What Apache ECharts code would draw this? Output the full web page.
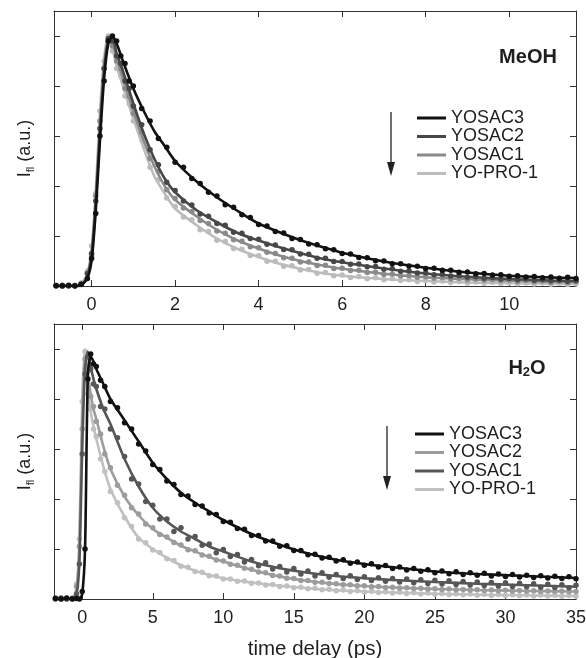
<!DOCTYPE html>
<html><head><meta charset="utf-8">
<script src="https://cdn.jsdelivr.net/npm/echarts/dist/echarts.min.js"></script>
<style>html,body{margin:0;padding:0;background:#fff}#c{width:586px;height:658px}</style>
</head><body><div id="c"></div><script>
// ---------- DATA ----------
const seriesNames = ['YOSAC3', 'YOSAC2', 'YOSAC1', 'YO-PRO-1'];
const meohTickLabels = [0, 2, 4, 6, 8, 10];
const waterTickLabels = [0, 5, 10, 15, 20, 25, 30, 35];
const yTicks = [0.2, 0.4, 0.6, 0.8, 1.0];

// MeOH panel: fitted curves
const meohFitX = [-0.9,-0.3,-0.2,-0.1,0,0.1,0.2,0.3,0.4,0.5,0.6,0.75,1,1.25,1.5,1.75,2,2.5,3,3.5,4,4.5,5,5.5,6,7,8,9,10,11,11.6];
const meohFitYOSAC3 = [0,0,0.01,0.03,0.10,0.30,0.58,0.83,0.97,1.0,0.97,0.90,0.79,0.70,0.62,0.56,0.50,0.42,0.355,0.30,0.25,0.215,0.183,0.157,0.133,0.098,0.073,0.054,0.041,0.034,0.032];
const meohFitYOSAC2 = [0,0,0.01,0.04,0.12,0.33,0.62,0.86,0.98,0.99,0.93,0.86,0.73,0.61,0.51,0.43,0.375,0.305,0.255,0.212,0.182,0.155,0.132,0.11,0.095,0.07,0.05,0.037,0.028,0.022,0.02];
const meohFitYOSAC1 = [0,0,0.01,0.04,0.13,0.35,0.65,0.88,0.99,0.97,0.91,0.83,0.70,0.58,0.48,0.40,0.345,0.28,0.225,0.182,0.15,0.122,0.1,0.083,0.069,0.049,0.035,0.027,0.021,0.017,0.016];
const meohFitYOPRO1 = [0,0,0.02,0.05,0.15,0.38,0.69,0.91,1.0,0.95,0.88,0.80,0.67,0.55,0.44,0.37,0.31,0.245,0.19,0.148,0.116,0.089,0.069,0.052,0.041,0.028,0.02,0.014,0.011,0.009,0.008];

// MeOH panel: measured points
const meohDotX = [-0.85,-0.7,-0.55,-0.4,-0.25,-0.1,0,0.1,0.2,0.3,0.4,0.5,0.6,0.7,0.8,0.9,1.0,
1.2,1.4,1.6,1.8,2.0,2.2,2.4,2.6,2.8,3.0,
3.2,3.4,3.6,3.8,4.0,4.2,4.4,4.6,4.8,5.0,
5.2,5.4,5.6,5.8,6.0,6.2,6.4,6.6,6.8,7.0,
7.2,7.4,7.6,7.8,8.0,8.2,8.4,8.6,8.8,9.0,
9.2,9.4,9.6,9.8,10.0,10.2,10.4,10.6,10.8,11.0,
11.2,11.4,11.6];
const meohDotsYOSAC3 = [0.002,0,0.003,0,0.006,0.03,0.11,0.29,0.60,0.82,0.98,1.0,0.98,0.92,0.89,0.82,0.80,
0.71,0.66,0.59,0.555,0.495,0.475,0.43,0.41,0.375,0.36,
0.325,0.315,0.285,0.274,0.246,0.24,0.218,0.212,0.19,0.186,
0.168,0.165,0.149,0.145,0.13,0.128,0.114,0.113,0.101,0.1,
0.089,0.089,0.08,0.079,0.07,0.071,0.063,0.063,0.055,0.056,
0.049,0.05,0.044,0.045,0.039,0.041,0.036,0.038,0.033,0.036,
0.031,0.035,0.03];
const meohDotsYOSAC2 = [0,0.003,0,0.002,0.007,0.05,0.13,0.34,0.63,0.87,0.99,0.98,0.92,0.89,0.82,0.79,0.72,
0.645,0.545,0.485,0.415,0.382,0.34,0.324,0.288,0.279,0.25,
0.243,0.215,0.211,0.19,0.187,0.167,0.164,0.146,0.145,0.128,
0.127,0.111,0.111,0.098,0.098,0.087,0.088,0.077,0.078,0.067,
0.069,0.059,0.061,0.052,0.053,0.045,0.047,0.04,0.042,0.035,
0.037,0.031,0.034,0.028,0.03,0.025,0.028,0.023,0.026,0.021,
0.023,0.019,0.022];
const meohDotsYOSAC1 = [0.002,0,0.002,0,0.01,0.05,0.12,0.36,0.66,0.87,0.98,0.96,0.9,0.87,0.79,0.76,0.69,
0.615,0.51,0.458,0.385,0.35,0.312,0.298,0.262,0.25,0.22,
0.211,0.185,0.179,0.157,0.153,0.135,0.13,0.113,0.111,0.096,
0.096,0.082,0.083,0.07,0.071,0.062,0.063,0.054,0.055,0.046,
0.048,0.041,0.042,0.035,0.037,0.031,0.034,0.028,0.031,0.025,
0.028,0.023,0.026,0.021,0.023,0.018,0.022,0.017,0.02,0.015,
0.019,0.014,0.017];
const meohDotsYOPRO1 = [0,0.002,0,0.003,0.012,0.06,0.16,0.37,0.70,0.9,1.0,0.94,0.87,0.84,0.76,0.73,0.66,
0.585,0.475,0.425,0.352,0.318,0.276,0.265,0.225,0.218,0.183,
0.178,0.15,0.147,0.122,0.121,0.099,0.099,0.079,0.081,0.064,
0.066,0.051,0.054,0.041,0.044,0.034,0.038,0.029,0.033,0.025,
0.029,0.022,0.025,0.018,0.022,0.016,0.02,0.014,0.018,0.012,
0.016,0.011,0.015,0.01,0.013,0.009,0.012,0.008,0.012,0.007,
0.011,0.006,0.009];

// H2O panel: fitted curves
const waterFitX = [-2,-0.7,-0.4,-0.2,0,0.2,0.4,0.6,0.8,1,1.5,2,3,4,5,6,7,8,9,10,12,14,16,18,20,22,25,28,31,35];
const waterFitYOSAC3 = [0,0,0,0,0.02,0.2,0.9,0.97,0.95,0.92,0.86,0.80,0.715,0.63,0.545,0.48,0.425,0.385,0.35,0.316,0.26,0.217,0.182,0.157,0.14,0.127,0.11,0.1,0.093,0.084];
const waterFitYOSAC1 = [0,0,0.02,0.15,0.6,0.92,0.99,0.93,0.88,0.84,0.76,0.70,0.56,0.45,0.365,0.31,0.27,0.24,0.21,0.19,0.15,0.123,0.105,0.092,0.083,0.076,0.068,0.061,0.056,0.049];
const waterFitYOSAC2 = [0,0,0.04,0.2,0.7,0.97,0.9,0.82,0.76,0.72,0.61,0.52,0.41,0.335,0.28,0.245,0.213,0.19,0.168,0.15,0.117,0.09,0.072,0.06,0.052,0.046,0.04,0.036,0.033,0.03];
const waterFitYOPRO1 = [0,0,0.05,0.25,0.8,1.0,0.83,0.75,0.69,0.64,0.53,0.44,0.33,0.245,0.2,0.165,0.135,0.113,0.096,0.083,0.066,0.053,0.043,0.035,0.03,0.026,0.021,0.017,0.015,0.012];

// H2O panel: measured points
const waterDotX = [-1.9,-1.5,-1.1,-0.7,-0.4,-0.2,0,0.2,0.4,0.6,0.8,1.0,1.3,1.6,2.0,2.5,
3,3.5,4,4.5,5,5.5,6,6.5,7,7.5,
8,8.5,9,9.5,10,10.5,11,11.5,12,12.5,
13,13.5,14,14.5,15,15.5,16,16.5,17,17.5,
18,18.5,19,19.5,20,20.5,21,21.5,22,22.5,
23,23.5,24,24.5,25,25.5,26,26.5,27,27.5,
28,28.5,29,29.5,30,30.5,31,31.5,32,32.5,
33,33.5,34,34.5,35];
const waterDotsYOSAC3 = [0.003,0,0.004,0,0.002,0,0.03,0.2,0.88,0.98,0.94,0.93,0.875,0.85,0.79,0.765,
0.705,0.68,0.62,0.592,0.538,0.518,0.472,0.458,0.418,0.412,
0.378,0.372,0.344,0.338,0.31,0.307,0.282,0.279,0.254,0.254,
0.232,0.232,0.211,0.213,0.194,0.194,0.177,0.179,0.164,0.167,
0.152,0.157,0.143,0.148,0.135,0.141,0.128,0.134,0.122,0.128,
0.116,0.122,0.111,0.117,0.105,0.112,0.101,0.109,0.098,0.105,
0.095,0.103,0.092,0.1,0.09,0.098,0.088,0.095,0.086,0.093,
0.084,0.091,0.082,0.089,0.081];
const waterDotsYOSAC1 = [0,0.004,0,0.003,0.02,0.14,0.58,0.9,0.97,0.92,0.86,0.85,0.77,0.76,0.68,0.645,
0.57,0.48,0.46,0.39,0.375,0.32,0.32,0.27,0.285,0.24,
0.25,0.215,0.22,0.185,0.198,0.17,0.178,0.148,0.158,0.133,
0.145,0.12,0.13,0.108,0.122,0.1,0.112,0.092,0.105,0.087,
0.098,0.082,0.093,0.078,0.089,0.074,0.085,0.071,0.082,0.068,
0.08,0.065,0.077,0.062,0.075,0.06,0.073,0.058,0.07,0.056,
0.068,0.054,0.066,0.052,0.065,0.05,0.063,0.049,0.061,0.047,
0.059,0.046,0.057,0.045,0.055];
const waterDotsYOSAC2 = [0.002,0,0.003,0,0.05,0.21,0.68,0.96,0.91,0.81,0.77,0.71,0.66,0.58,0.525,0.455,
0.415,0.365,0.34,0.3,0.285,0.258,0.248,0.226,0.216,0.197,
0.193,0.176,0.171,0.156,0.152,0.139,0.135,0.123,0.119,0.108,
0.105,0.094,0.092,0.083,0.082,0.074,0.074,0.067,0.067,0.062,
0.061,0.057,0.057,0.053,0.053,0.049,0.05,0.046,0.047,0.044,
0.045,0.042,0.043,0.04,0.041,0.038,0.04,0.037,0.038,0.036,
0.037,0.034,0.036,0.033,0.035,0.032,0.034,0.031,0.033,0.03,
0.032,0.03,0.031,0.029,0.03];
const waterDotsYOPRO1 = [0,0.003,0,0.002,0.06,0.24,0.79,0.99,0.82,0.76,0.68,0.65,0.56,0.51,0.43,0.385,
0.325,0.29,0.24,0.225,0.196,0.186,0.161,0.154,0.131,0.127,
0.11,0.107,0.093,0.092,0.08,0.08,0.071,0.072,0.063,0.064,
0.056,0.058,0.05,0.052,0.045,0.047,0.041,0.043,0.037,0.039,
0.033,0.036,0.03,0.033,0.028,0.031,0.026,0.029,0.024,0.027,
0.022,0.025,0.02,0.024,0.019,0.022,0.018,0.021,0.017,0.02,
0.015,0.019,0.014,0.018,0.014,0.017,0.013,0.016,0.012,0.016,
0.012,0.015,0.011,0.014,0.011];

// ---------- STYLE ----------
const FONT = "'Liberation Sans', Arial, Helvetica, sans-serif";
const INK = '#1e1e1e';
const meohColors = {'YOSAC3':'#111111','YOSAC2':'#474747','YOSAC1':'#8a8a8a','YO-PRO-1':'#bcbcbc'};
const waterColors = {'YOSAC3':'#111111','YOSAC2':'#9c9c9c','YOSAC1':'#565656','YO-PRO-1':'#c0c0c0'};

const meohFits = {'YOSAC3':meohFitYOSAC3,'YOSAC2':meohFitYOSAC2,'YOSAC1':meohFitYOSAC1,'YO-PRO-1':meohFitYOPRO1};
const meohDots = {'YOSAC3':meohDotsYOSAC3,'YOSAC2':meohDotsYOSAC2,'YOSAC1':meohDotsYOSAC1,'YO-PRO-1':meohDotsYOPRO1};
const waterFits = {'YOSAC3':waterFitYOSAC3,'YOSAC2':waterFitYOSAC2,'YOSAC1':waterFitYOSAC1,'YO-PRO-1':waterFitYOPRO1};
const waterDots = {'YOSAC3':waterDotsYOSAC3,'YOSAC2':waterDotsYOSAC2,'YOSAC1':waterDotsYOSAC1,'YO-PRO-1':waterDotsYOPRO1};

function pairs(xs, ys) { return xs.map((x, i) => [x, ys[i]]); }

const series = [];
function addPanel(axisIdx, fitX, fits, dotX, dots, colors, drawOrder) {
  drawOrder.forEach((n, k) => {
    series.push({
      type: 'scatter', name: n, xAxisIndex: axisIdx, yAxisIndex: axisIdx,
      data: pairs(dotX, dots[n]), symbolSize: 5.5, silent: true, z: 2 + k * 2,
      itemStyle: { color: colors[n], opacity: 1 }
    });
    series.push({
      type: 'line', name: n, xAxisIndex: axisIdx, yAxisIndex: axisIdx,
      data: pairs(fitX, fits[n]), showSymbol: false, smooth: 0.25, silent: true, z: 3 + k * 2,
      lineStyle: { color: colors[n], width: 2.6 }, itemStyle: { color: colors[n] }
    });
  });
}
addPanel(0, meohFitX, meohFits, meohDotX, meohDots, meohColors, ['YO-PRO-1','YOSAC1','YOSAC2','YOSAC3']);
addPanel(2, waterFitX, waterFits, waterDotX, waterDots, waterColors, ['YO-PRO-1','YOSAC2','YOSAC1','YOSAC3']);

const axLine = { show: true, onZero: false, lineStyle: { color: '#333', width: 1 } };
function xAx(grid, pos, min, max, ticks, withLabels, margin, extra) {
  return Object.assign({
    type: 'value', gridIndex: grid, position: pos, min: min, max: max,
    axisLine: axLine,
    axisTick: { show: true, inside: true, length: 6, customValues: ticks, lineStyle: { color: '#333' } },
    axisLabel: { show: withLabels, customValues: ticks, fontSize: 18, color: INK, fontFamily: FONT, margin: margin },
    splitLine: { show: false }
  }, extra || {});
}
const yName = '{i|I}{s|fl}{i| (a.u.)}';
const yNameStyle = { rich: {
  i: { fontSize: 18, lineHeight: 22, fontFamily: FONT, color: INK },
  s: { fontSize: 11, lineHeight: 12, verticalAlign: 'bottom', fontFamily: FONT, color: INK }
} };
function yAx(grid, pos, withName) {
  const a = {
    type: 'value', gridIndex: grid, position: pos, min: 0, max: 1.1,
    axisLine: axLine,
    axisTick: { show: true, inside: true, length: 6, customValues: yTicks, lineStyle: { color: '#333' } },
    axisLabel: { show: false, customValues: yTicks },
    splitLine: { show: false }
  };
  if (withName) {
    a.name = yName; a.nameLocation = 'middle'; a.nameGap = 18; a.nameTextStyle = yNameStyle;
  }
  return a;
}

function legendFor(left, top, colors) {
  return {
    orient: 'vertical', left: left, top: top, itemWidth: 29, itemHeight: 3, itemGap: 0.5,
    icon: 'rect', selectedMode: false,
    textStyle: { fontFamily: FONT, fontSize: 18, color: INK, lineHeight: 18 },
    data: seriesNames.map(n => ({ name: n, itemStyle: { color: colors[n] }, lineStyle: { color: colors[n] } }))
  };
}

const option = {
  animation: false,
  backgroundColor: '#fff',
  grid: [
    { left: 54, top: 11, width: 522, height: 275, containLabel: false, outerBoundsMode: 'none' },
    { left: 54, top: 324, width: 522, height: 275, containLabel: false, outerBoundsMode: 'none' }
  ],
  xAxis: [
    xAx(0, 'bottom', -0.9, 11.6, meohTickLabels, true, 10),
    xAx(0, 'top', -0.9, 11.6, meohTickLabels, false, 8),
    xAx(1, 'bottom', -2, 35, waterTickLabels, true, 10, {
      name: 'time delay (ps)', nameLocation: 'middle', nameGap: 40,
      nameTextStyle: { fontSize: 20.5, color: INK, fontFamily: FONT }
    }),
    xAx(1, 'top', -2, 35, waterTickLabels, false, 8)
  ],
  yAxis: [ yAx(0, 'left', true), yAx(0, 'right', false), yAx(1, 'left', true), yAx(1, 'right', false) ],
  legend: [ legendFor(412, 104, meohColors), legendFor(410, 420, waterColors) ],
  graphic: [
    { type: 'text', silent: true, style: { text: 'MeOH', x: 528, y: 57, align: 'center', verticalAlign: 'middle',
      fontSize: 20, fontWeight: 'bold', fontFamily: FONT, fill: INK } },
    { type: 'text', silent: true, style: { text: '{a|H}{b|2}{a|O}', x: 527, y: 368, align: 'center', verticalAlign: 'middle',
      fill: INK, rich: {
        a: { fontSize: 20, fontWeight: 'bold', fontFamily: FONT, lineHeight: 22, fill: INK, color: INK },
        b: { fontSize: 13, fontWeight: 'bold', fontFamily: FONT, lineHeight: 12, verticalAlign: 'bottom', fill: INK, color: INK }
      } } },
    { type: 'line', silent: true, shape: { x1: 391, y1: 112, x2: 391, y2: 165 }, style: { stroke: '#222', lineWidth: 1.3 } },
    { type: 'polygon', silent: true, shape: { points: [[387, 162], [395, 162], [391, 176]] }, style: { fill: '#222' } },
    { type: 'line', silent: true, shape: { x1: 387, y1: 426, x2: 387, y2: 479 }, style: { stroke: '#222', lineWidth: 1.3 } },
    { type: 'polygon', silent: true, shape: { points: [[383, 476], [391, 476], [387, 490]] }, style: { fill: '#222' } }
  ],
  series: series
};
const chart = echarts.init(document.getElementById('c'));
chart.setOption(option);
</script></body></html>
